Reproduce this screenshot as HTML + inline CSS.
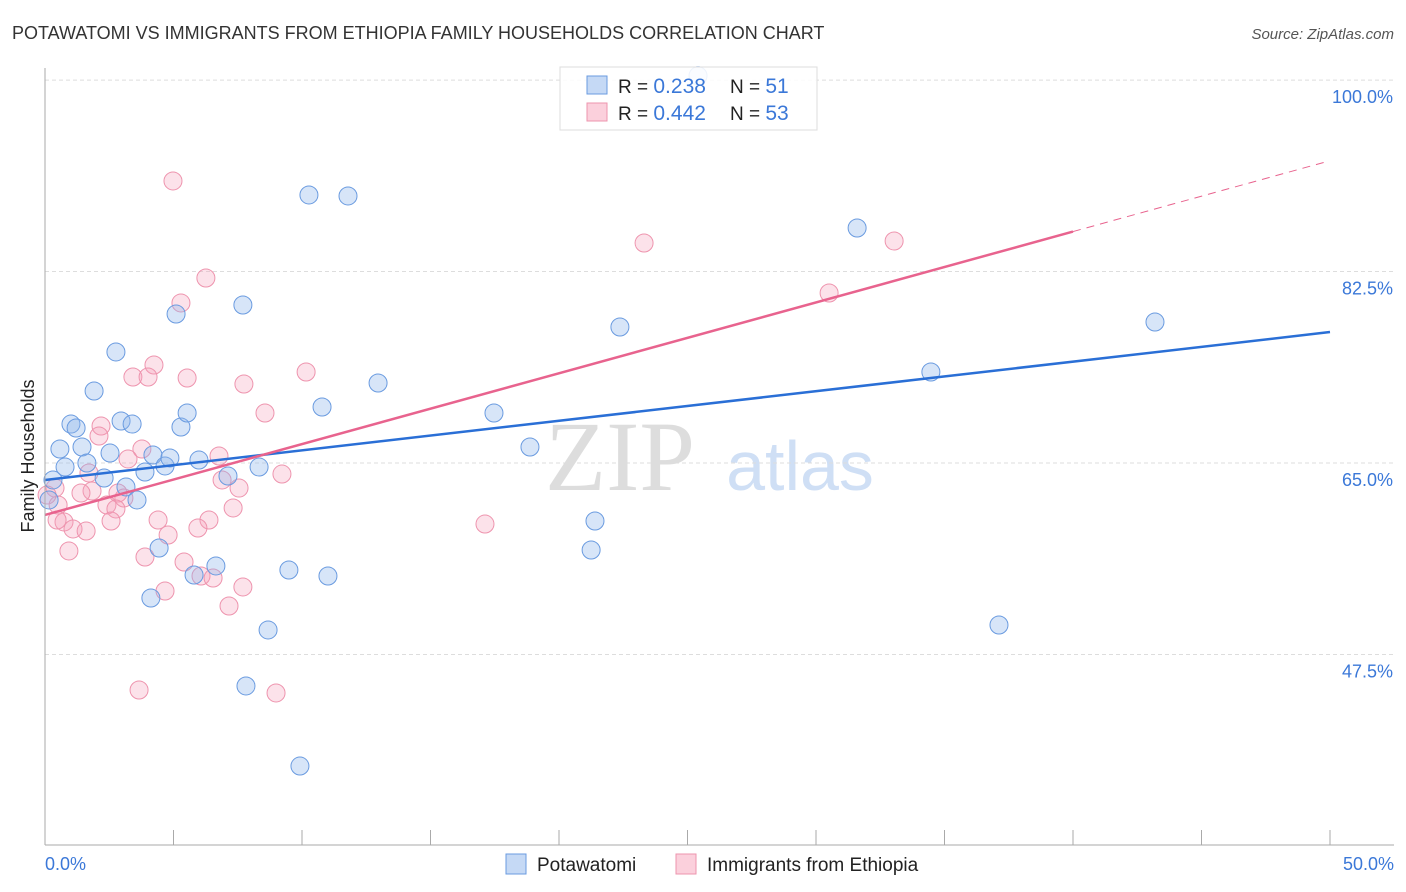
<!DOCTYPE html>
<html><head><meta charset="utf-8"><style>
body{margin:0;background:#fff;font-family:"Liberation Sans",sans-serif}
svg{display:block}
</style></head><body>
<svg id="c" width="1406" height="892" xmlns="http://www.w3.org/2000/svg">
<text x="12" y="39" font-size="18" fill="#333">POTAWATOMI VS IMMIGRANTS FROM ETHIOPIA FAMILY HOUSEHOLDS CORRELATION CHART</text>
<text x="1394" y="39" font-size="15" fill="#555" text-anchor="end" font-style="italic">Source: ZipAtlas.com</text>
<text x="620" y="490" font-size="100" fill="#ddd" font-family="Liberation Serif,serif" text-anchor="middle">ZIP</text>
<text x="800" y="490" font-size="70" fill="#cfdff5" text-anchor="middle">atlas</text>
<g id="grid"></g><g id="marks"></g>
<line x1="45" y1="68" x2="45" y2="845" stroke="#aaa"/>
<line x1="45" y1="845" x2="1394" y2="845" stroke="#aaa"/>
<text x="0" y="0" transform="translate(34,456) rotate(-90)" font-size="18" fill="#222" text-anchor="middle">Family Households</text>
<text x="45" y="870" font-size="18" fill="#3b78d8">0.0%</text>
<text x="1394" y="870" font-size="18" fill="#3b78d8" text-anchor="end">50.0%</text>
<g>
<rect x="560" y="67" width="257" height="63" fill="rgba(255,255,255,0.88)" stroke="#ddd"/>
<rect x="587" y="76" width="20" height="18" fill="#c5d9f5" stroke="#6a9be0"/>
<rect x="587" y="103" width="20" height="18" fill="#fbd0dc" stroke="#ee94ae"/>
<text x="618" y="93" font-size="19" fill="#222">R = <tspan fill="#3b78d8" font-size="21">0.238</tspan></text>
<text x="730" y="93" font-size="19" fill="#222">N = <tspan fill="#3b78d8" font-size="21"> 51</tspan></text>
<text x="618" y="120" font-size="19" fill="#222">R = <tspan fill="#3b78d8" font-size="21">0.442</tspan></text>
<text x="730" y="120" font-size="19" fill="#222">N = <tspan fill="#3b78d8" font-size="21">53</tspan></text>
</g>
<g>
<rect x="506" y="854" width="20" height="20" fill="#c5d9f5" stroke="#6a9be0"/>
<text x="537" y="871" font-size="19" fill="#222">Potawatomi</text>
<rect x="676" y="854" width="20" height="20" fill="#fbd0dc" stroke="#ee94ae"/>
<text x="707" y="871" font-size="19" fill="#222">Immigrants from Ethiopia</text>
</g>
</svg>
<script>
const yTicks=[100,82.5,65,47.5];
const xTicks=[0,5,10,15,20,25,30,35,40,45,50];
const blueX=[0.31,0.58,0.78,1.01,1.21,1.44,1.63,1.91,2.30,2.53,2.76,2.96,3.15,3.39,3.58,3.89,4.12,4.20,4.44,4.67,4.86,5.10,5.29,5.53,5.80,5.99,6.65,7.12,7.70,7.82,8.33,8.68,9.49,9.92,10.27,10.78,11.01,11.79,12.96,17.47,18.87,21.25,21.40,22.37,31.60,34.47,37.12,43.19,25.41,0.16];
const blueY=[63.45,66.28,64.63,68.56,68.2,66.46,65.0,71.58,63.63,65.91,75.15,68.84,62.81,68.56,61.62,64.18,52.66,65.73,57.23,64.73,65.46,78.62,68.29,69.57,54.76,65.27,55.59,63.81,79.44,44.62,64.63,49.74,55.22,37.30,89.50,70.12,54.67,89.41,72.31,69.57,66.46,57.05,59.70,77.43,86.48,73.32,50.19,77.89,100.4,61.62];
const pinkX=[4.98,6.26,5.29,4.24,3.42,4.01,5.53,7.74,10.16,8.56,2.18,2.10,3.77,3.23,6.77,1.71,1.83,9.22,6.89,7.55,1.40,2.84,3.07,0.39,0.51,2.41,2.76,7.32,0.74,1.09,1.60,2.57,4.40,6.38,5.95,4.79,0.93,3.89,5.41,6.07,6.54,7.70,4.67,7.16,3.66,8.99,17.12,23.31,30.51,33.04,0.47,0.08];
const pinkY=[90.78,81.91,79.63,73.96,72.86,72.86,72.77,72.22,73.32,69.57,68.38,67.47,66.28,65.37,65.64,64.09,62.44,63.99,63.45,62.71,62.26,62.26,61.80,62.71,61.16,61.16,60.80,60.89,59.61,58.97,58.78,59.70,59.79,59.79,59.06,58.42,56.96,56.41,55.95,54.67,54.49,53.67,53.30,51.93,44.25,43.98,59.42,85.11,80.54,85.29,59.79,62.07];
const blueTrend=[63.45,76.97];
const pinkTrend=[60.25,92.5];
const NS='http://www.w3.org/2000/svg';
const X=v=>45+v*25.7, Y=v=>463-(v-65)*10.94;
function mk(t,a,p){const e=document.createElementNS(NS,t);for(const k in a)e.setAttribute(k,a[k]);p.appendChild(e);return e;}
const g=document.getElementById('grid'),m=document.getElementById('marks');
yTicks.forEach(t=>{
 const l=mk('line',{x1:45,x2:1394,y1:Y(t),y2:Y(t),stroke:'#ddd','stroke-dasharray':'4,3'},g);
 
 
 const tx=mk('text',{x:1393,y:Y(t)+23,'font-size':18,fill:'#3b78d8','text-anchor':'end'},g);
 tx.textContent=t.toFixed(1)+'%';
 
 
});
xTicks.forEach(t=>{
 const l=mk('line',{x1:X(t),x2:X(t),y1:830,y2:845,stroke:'#aaa'},g);
 
 
});
pinkX.forEach((x,i)=>{
 const c=mk('circle',{cx:X(x),cy:Y(pinkY[i]),r:9,fill:'rgba(245,160,185,0.3)',stroke:'#ee94ae','stroke-width':1},m);
 
 
});
blueX.forEach((x,i)=>{
 const c=mk('circle',{cx:X(x),cy:Y(blueY[i]),r:9,fill:'rgba(140,180,235,0.35)',stroke:'#6a9be0','stroke-width':1},m);
 
 
});
const bl=mk('line',{x1:X(0),y1:Y(blueTrend[0]),x2:X(50),y2:Y(blueTrend[1]),stroke:'#2a6fd6','stroke-width':2.5},m);


const ps=pinkTrend[0], pe=pinkTrend[1], px=v=>ps+(pe-ps)*v/49.8;
const pl=mk('line',{x1:X(0),y1:Y(ps),x2:X(40),y2:Y(px(40)),stroke:'#e8638e','stroke-width':2.5},m);


const pd=mk('line',{x1:X(40),y1:Y(px(40)),x2:X(49.8),y2:Y(pe),stroke:'#e8638e','stroke-width':1,'stroke-dasharray':'8,6'},m);


</script>
</body></html>
